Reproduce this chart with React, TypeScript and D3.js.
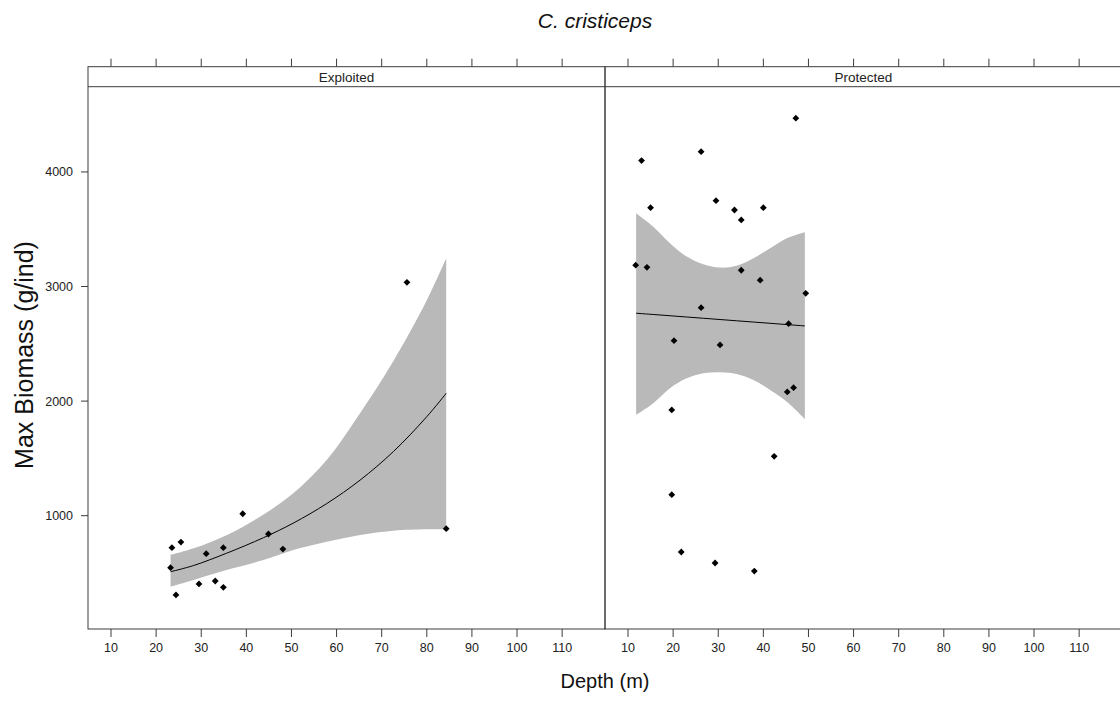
import React from "react";
import * as d3 from "d3";

// ---- data ----
const panels = ["Exploited", "Protected"];
const xTicks = [10, 20, 30, 40, 50, 60, 70, 80, 90, 100, 110];
const yTicks = [1000, 2000, 3000, 4000];

const exploitedDepth = [39.2, 23.5, 25.5, 23.2, 31.1, 34.9, 44.9, 48.1, 29.5, 33.1, 34.9, 24.4, 84.3, 75.6];
const exploitedBiomass = [1017, 721, 770, 546, 668, 721, 840, 709, 404, 430, 375, 308, 887, 3037];

const protectedDepth = [47.2, 13.0, 26.2, 15.0, 29.5, 33.6, 35.1, 40.0, 11.7, 14.2, 35.1, 39.3, 49.4, 26.2, 45.6, 20.2, 30.4, 45.3, 46.7, 19.7, 42.4, 19.7, 21.8, 29.3, 38.0];
const protectedBiomass = [4469, 4099, 4177, 3688, 3749, 3668, 3581, 3688, 3186, 3168, 3142, 3055, 2941, 2815, 2676, 2527, 2490, 2080, 2117, 1923, 1518, 1183, 683, 587, 517];

// fitted curve and confidence band
const exploitedFitX = [23.2, 28.3, 35.6, 43.8, 50.4, 57.8, 65.2, 72.6, 80.0, 84.3];
const exploitedFit = [511, 565, 672, 808, 935, 1105, 1310, 1560, 1864, 2068];
const exploitedLower = [380, 439, 526, 613, 701, 773, 832, 869, 881, 881];
const exploitedUpper = [657, 715, 830, 1010, 1195, 1486, 1894, 2350, 2880, 3247];

const protectedFitX = [11.8, 15.6, 19.3, 23.0, 26.7, 30.4, 34.1, 37.8, 41.5, 45.2, 49.2];
const protectedFit = [2767, 2756, 2745, 2734, 2723, 2712, 2701, 2690, 2679, 2668, 2656];
const protectedLower = [1879, 1981, 2112, 2199, 2243, 2252, 2237, 2184, 2097, 1995, 1844];
const protectedUpper = [3639, 3522, 3378, 3261, 3194, 3165, 3182, 3247, 3334, 3421, 3474];

const W = 1120;
const H = 701;
const top = 86.7;
const stripTop = 66.7;
const bottom = 629;
const panelLeft = 88;
const panelW = 517;
const xDomain: [number, number] = [4.9, 119.5];
const yDomain: [number, number] = [11, 4744];
const font = "'Liberation Sans', Arial, Helvetica, sans-serif";
const borderCol = "#3c3c3c";

const panelData = [
  { depth: exploitedDepth, biomass: exploitedBiomass, fx: exploitedFitX, fit: exploitedFit, lo: exploitedLower, hi: exploitedUpper },
  { depth: protectedDepth, biomass: protectedBiomass, fx: protectedFitX, fit: protectedFit, lo: protectedLower, hi: protectedUpper },
];

export default function App() {
  const y = d3.scaleLinear().domain(yDomain).range([bottom, top]);
  const diamond = d3.symbol(d3.symbolSquare, 23)() as string;

  return (
    <svg width={W} height={H} style={{ position: "absolute", left: 0, top: 0, background: "#fff" }} fontFamily={font}>
      <rect x={0} y={0} width={W} height={H} fill="#fff" />
      <text x={595} y={28} textAnchor="middle" fontSize={21} fontStyle="italic" fill="#111">
        C. cristiceps
      </text>

      {panels.map((name, pi) => {
        const x0 = panelLeft + pi * panelW;
        const x = d3.scaleLinear().domain(xDomain).range([x0, x0 + panelW]);
        const pd = panelData[pi];
        const idx = d3.range(pd.fx.length);
        const area = d3
          .area<number>()
          .x((i) => x(pd.fx[i]))
          .y0((i) => y(pd.lo[i]))
          .y1((i) => y(pd.hi[i]))
          .curve(d3.curveCatmullRom.alpha(0.5));
        const line = d3
          .line<number>()
          .x((i) => x(pd.fx[i]))
          .y((i) => y(pd.fit[i]))
          .curve(d3.curveCatmullRom.alpha(0.5));
        return (
          <g key={name}>
            <clipPath id={`clip${pi}`}>
              <rect x={x0} y={top} width={panelW} height={bottom - top} />
            </clipPath>
            <g clipPath={`url(#clip${pi})`}>
              <path d={area(idx) || ""} fill="#b9b9b9" stroke="none" />
              <path d={line(idx) || ""} fill="none" stroke="#000" strokeWidth={1} />
              {pd.depth.map((dv, i) => (
                <path
                  key={i}
                  d={diamond}
                  transform={`translate(${x(dv)},${y(pd.biomass[i])}) rotate(45)`}
                  fill="#000"
                />
              ))}
            </g>
            {/* panel border + strip */}
            <rect x={x0} y={stripTop} width={panelW} height={bottom - stripTop} fill="none" stroke={borderCol} strokeWidth={1} />
            <line x1={x0} x2={x0 + panelW} y1={top} y2={top} stroke={borderCol} strokeWidth={1} />
            <text x={x0 + panelW / 2} y={81.5} textAnchor="middle" fontSize={13.5} fill="#222">
              {name}
            </text>
            {xTicks.map((t) => (
              <g key={t}>
                <line x1={x(t)} x2={x(t)} y1={stripTop} y2={stripTop - 8} stroke={borderCol} />
                <line x1={x(t)} x2={x(t)} y1={bottom} y2={bottom + 8} stroke={borderCol} />
                <text x={x(t)} y={652} textAnchor="middle" fontSize={12.5} fill="#222">
                  {t}
                </text>
              </g>
            ))}
          </g>
        );
      })}

      {yTicks.map((t) => (
        <g key={t}>
          <line x1={panelLeft - 7} x2={panelLeft} y1={y(t)} y2={y(t)} stroke={borderCol} />
          <text x={73} y={y(t) + 4.5} textAnchor="end" fontSize={12.5} fill="#222">
            {t}
          </text>
        </g>
      ))}

      <text
        transform={`translate(33,355) rotate(-90)`}
        textAnchor="middle"
        fontSize={25}
        fill="#111"
      >
        Max Biomass (g/ind)
      </text>
      <text x={605} y={688} textAnchor="middle" fontSize={20} fill="#111">
        Depth (m)
      </text>
    </svg>
  );
}
